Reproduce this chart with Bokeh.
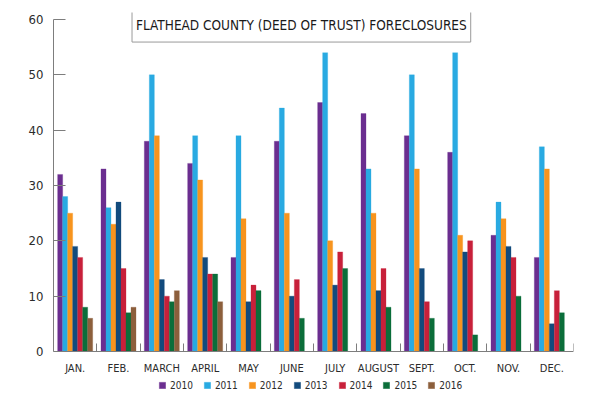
import numpy as np
from bokeh.plotting import figure
from bokeh.models import (ColumnDataSource, FixedTicker, Legend, LegendItem,
                          Label, LabelSet, Range1d, LinearAxis)
from bokeh.core.properties import value
from bokeh.embed import file_html
from bokeh.resources import INLINE

months = ["JAN.", "FEB.", "MARCH", "APRIL", "MAY", "JUNE", "JULY",
          "AUGUST", "SEPT.", "OCT.", "NOV.", "DEC."]
years = ["2010", "2011", "2012", "2013", "2014", "2015", "2016"]
v2010 = [32, 33, 38, 34, 17, 38, 45, 43, 39, 36, 21, 17]
v2011 = [28, 26, 50, 39, 39, 44, 54, 33, 50, 54, 27, 37]
v2012 = [25, 23, 39, 31, 24, 25, 20, 25, 33, 21, 24, 33]
v2013 = [19, 27, 13, 17, 9, 10, 12, 11, 15, 18, 19, 5]
v2014 = [17, 15, 10, 14, 12, 13, 18, 15, 9, 20, 17, 11]
v2015 = [8, 7, 9, 14, 11, 6, 15, 8, 6, 3, 10, 7]
v2016 = [6, 8, 11, 9]
series = [v2010, v2011, v2012, v2013, v2014, v2015, v2016]
colors = ["#6b2e90", "#29aae2", "#f7941e", "#124b7d", "#c8203a",
          "#0b6e3a", "#8c5f3c"]
y_ticks = [0, 10, 20, 30, 40, 50, 60]
title_text = "FLATHEAD COUNTY (DEED OF TRUST) FORECLOSURES"

FONT = "DejaVu Sans Condensed"

p = figure(frame_width=520, frame_height=388, output_backend="svg",
           toolbar_location=None, x_axis_location=None,
           x_range=Range1d(0, 12), y_range=Range1d(-8.856, 61.27),
           min_border_left=53, min_border_right=15, min_border_top=12,
           min_border_bottom=0)
p.outline_line_color = None
p.xgrid.grid_line_color = None
p.ygrid.grid_line_color = None
p.background_fill_color = "white"
p.border_fill_color = "white"

bw = 0.1154
items = []
for k, (yr, vals, c) in enumerate(zip(years, series, colors)):
    idx = np.arange(len(vals))
    xs = idx + 0.5 + (k - 3) * bw
    src = ColumnDataSource(dict(x=xs, top=vals))
    r = p.vbar(x="x", top="top", width=bw, bottom=0, source=src,
               fill_color=c, line_color=c, line_width=0.5, line_alpha=0.6)
    items.append(LegendItem(label=yr, renderers=[r]))

axis_col = "#7d7d7d"
text_col = "#2b2b2b"

# y axis
p.yaxis.ticker = FixedTicker(ticks=y_ticks)
p.yaxis.bounds = (0, 60)
p.yaxis.major_tick_in = 12
p.yaxis.major_tick_out = 0
p.yaxis.minor_tick_line_color = None
p.yaxis.axis_line_color = axis_col
p.yaxis.major_tick_line_color = axis_col
p.yaxis.major_label_standoff = 10
p.yaxis.major_label_text_font = FONT
p.yaxis.major_label_text_font_size = "13px"
p.yaxis.major_label_text_color = text_col

# x axis: baseline at y = 0 with upward separator ticks between months
xax = LinearAxis(fixed_location=0,
                 ticker=FixedTicker(ticks=[i + 1 for i in range(len(months))]),
                 bounds=(0, 12), major_tick_in=0, major_tick_out=8,
                 minor_tick_line_color=None, axis_line_color=axis_col,
                 major_tick_line_color=axis_col, major_label_standoff=0,
                 major_label_text_font_size="0px", major_label_text_alpha=0)
p.add_layout(xax, "above")

centers = [i + 0.5 for i in range(len(months))]
msrc = ColumnDataSource(dict(x=centers, y=[0] * len(months), text=months))
p.add_layout(LabelSet(x="x", y="y", text="text", source=msrc,
                      y_offset=-10, text_align="center", text_baseline="top",
                      text_font=value(FONT), text_font_size=value("11px"),
                      text_color=text_col))

legend = Legend(items=items, orientation="horizontal", location=(105, 9),
                glyph_width=8, glyph_height=8, label_standoff=4, spacing=10,
                padding=0, margin=0, border_line_color=None,
                background_fill_alpha=0, label_height=12,
                label_text_font=FONT, label_text_font_size="10px",
                label_text_color=text_col)
p.add_layout(legend)

title = Label(x=5.72, y=59.0, text=title_text, text_align="center",
              text_baseline="middle", text_font=FONT,
              text_font_size="13.5px", text_color="#1a1a1a",
              background_fill_color="white", border_line_color="#9a9a9a",
              border_line_width=1,
              padding=dict(left=4, right=4, top=9, bottom=9))
p.add_layout(title)

open("out.html", "w").write(file_html(p, INLINE))
